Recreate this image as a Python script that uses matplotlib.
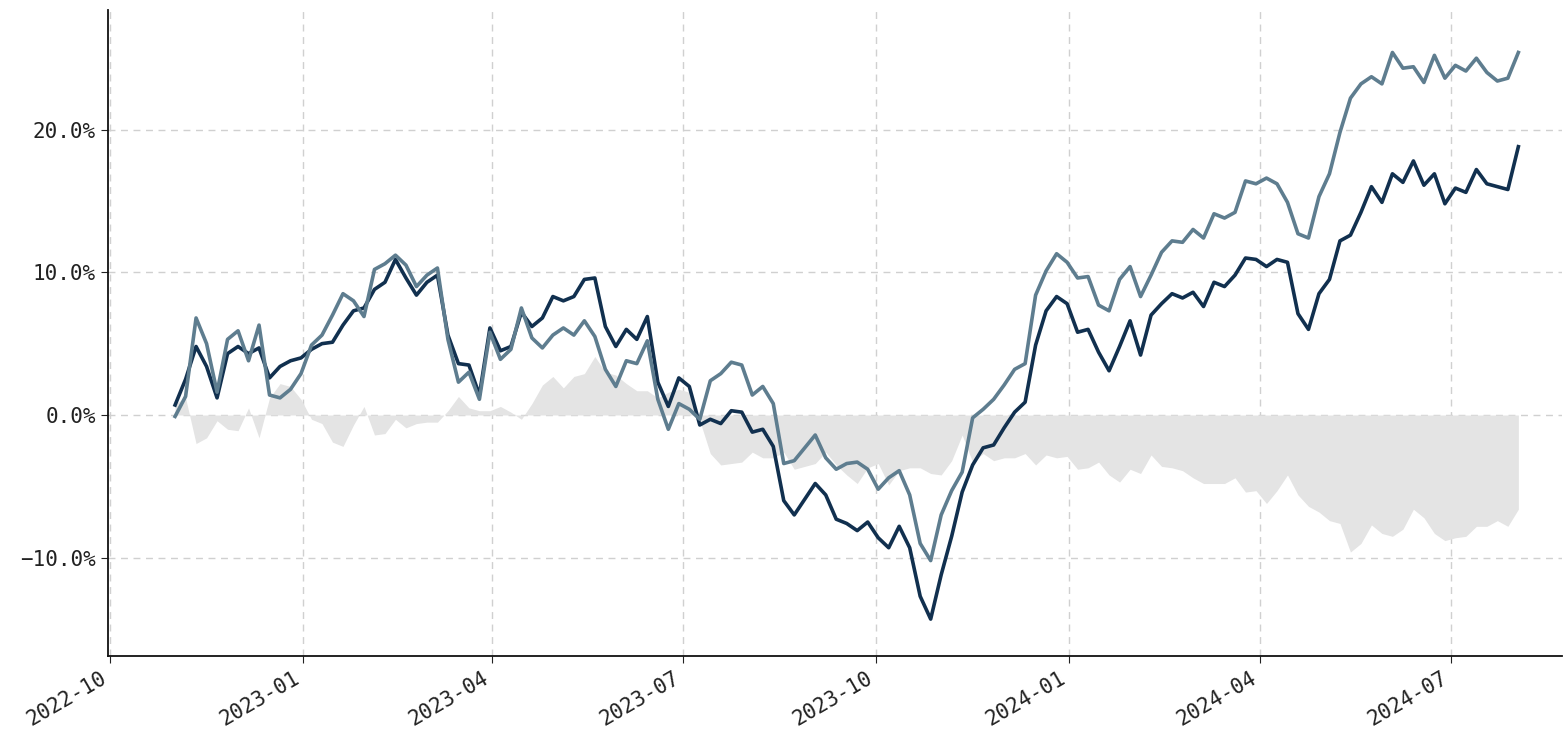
import matplotlib
matplotlib.use("Agg")
import matplotlib.pyplot as plt
import matplotlib.dates as mdates
from matplotlib.ticker import PercentFormatter
import numpy as np
import pandas as pd

# one reading every 5 calendar days
dates = pd.date_range("2022-11-01", periods=129, freq="5D")

# cumulative return, %, dark series
series_dark = [
    0.7, 2.5, 4.8, 3.4, 1.2, 4.3, 4.8, 4.3, 4.7, 2.6,
    3.4, 3.8, 4.0, 4.6, 5.0, 5.1, 6.3, 7.3, 7.5, 8.8,
    9.3, 10.9, 9.6, 8.4, 9.3, 9.8, 5.6, 3.6, 3.5, 1.4,
    6.1, 4.5, 4.8, 7.2, 6.2, 6.8, 8.3, 8.0, 8.3, 9.5,
    9.6, 6.2, 4.8, 6.0, 5.3, 6.9, 2.3, 0.6, 2.6, 2.0,
    -0.7, -0.3, -0.6, 0.3, 0.2, -1.2, -1.0, -2.2, -6.0, -7.0,
    -5.9, -4.8, -5.6, -7.3, -7.6, -8.1, -7.5, -8.6, -9.3, -7.8,
    -9.3, -12.7, -14.3, -11.2, -8.5, -5.4, -3.5, -2.3, -2.1, -0.9,
    0.2, 0.9, 4.9, 7.3, 8.3, 7.8, 5.8, 6.0, 4.4, 3.1,
    4.8, 6.6, 4.2, 7.0, 7.8, 8.5, 8.2, 8.6, 7.6, 9.3,
    9.0, 9.8, 11.0, 10.9, 10.4, 10.9, 10.7, 7.1, 6.0, 8.5,
    9.5, 12.2, 12.6, 14.2, 16.0, 14.9, 16.9, 16.3, 17.8, 16.1,
    16.9, 14.8, 15.9, 15.6, 17.2, 16.2, 16.0, 15.8, 18.8,
]

# cumulative return, %, light series
series_light = [
    -0.1, 1.3, 6.8, 5.0, 1.6, 5.3, 5.9, 3.8, 6.3, 1.4,
    1.2, 1.8, 2.9, 4.9, 5.6, 7.0, 8.5, 8.0, 6.9, 10.2,
    10.6, 11.2, 10.5, 9.0, 9.8, 10.3, 5.3, 2.3, 3.0, 1.1,
    5.8, 3.9, 4.6, 7.5, 5.4, 4.7, 5.6, 6.1, 5.6, 6.6,
    5.5, 3.2, 2.0, 3.8, 3.6, 5.2, 1.1, -1.0, 0.8, 0.4,
    -0.3, 2.4, 2.9, 3.7, 3.5, 1.4, 2.0, 0.8, -3.4, -3.2,
    -2.3, -1.4, -3.0, -3.8, -3.4, -3.3, -3.8, -5.2, -4.4, -3.9,
    -5.6, -9.0, -10.2, -7.0, -5.3, -4.0, -0.2, 0.4, 1.1, 2.1,
    3.2, 3.6, 8.4, 10.1, 11.3, 10.7, 9.6, 9.7, 7.7, 7.3,
    9.5, 10.4, 8.3, 9.8, 11.4, 12.2, 12.1, 13.0, 12.4, 14.1,
    13.8, 14.2, 16.4, 16.2, 16.6, 16.2, 14.9, 12.7, 12.4, 15.3,
    16.9, 19.8, 22.2, 23.2, 23.7, 23.2, 25.4, 24.3, 24.4, 23.3,
    25.2, 23.6, 24.5, 24.1, 25.0, 24.0, 23.4, 23.6, 25.4,
]

DARK = "#11304f"
LIGHT = "#5e7d8f"
FILL = "#e4e4e4"

plt.rcParams["font.family"] = ["DejaVu Sans Mono"]

fig = plt.figure(figsize=(15.64, 7.44), dpi=100)
ax = fig.add_axes([0.069, 0.118, 0.93, 0.869])

dark = np.array(series_dark)
light = np.array(series_light)

ax.fill_between(dates, 0, dark - light, color=FILL, linewidth=0, zorder=1)
ax.plot(dates, dark, color=DARK, linewidth=2.6, zorder=3)
ax.plot(dates, light, color=LIGHT, linewidth=2.6, zorder=3)

ax.set_xlim(pd.Timestamp("2022-09-30"), pd.Timestamp("2024-08-23"))
ax.set_ylim(-16.9, 28.4)
ax.set_yticks([-10, 0, 10, 20])
ax.yaxis.set_major_formatter(PercentFormatter(decimals=1))

ax.xaxis.set_major_locator(mdates.MonthLocator(bymonth=[1, 4, 7, 10]))
ax.xaxis.set_major_formatter(mdates.DateFormatter("%Y-%m"))
plt.setp(ax.get_xticklabels(), rotation=30, ha="right")

ax.grid(True, linestyle=(0, (5, 4)), color="#d0d0d0", linewidth=1.0, zorder=0)
ax.set_axisbelow(True)
ax.tick_params(labelsize=15, colors="#222222", length=5)
for side in ["top", "right"]:
    ax.spines[side].set_visible(False)
for side in ["left", "bottom"]:
    ax.spines[side].set_color("#111111")
    ax.spines[side].set_linewidth(1.3)

fig.savefig("out.png", dpi=100)
